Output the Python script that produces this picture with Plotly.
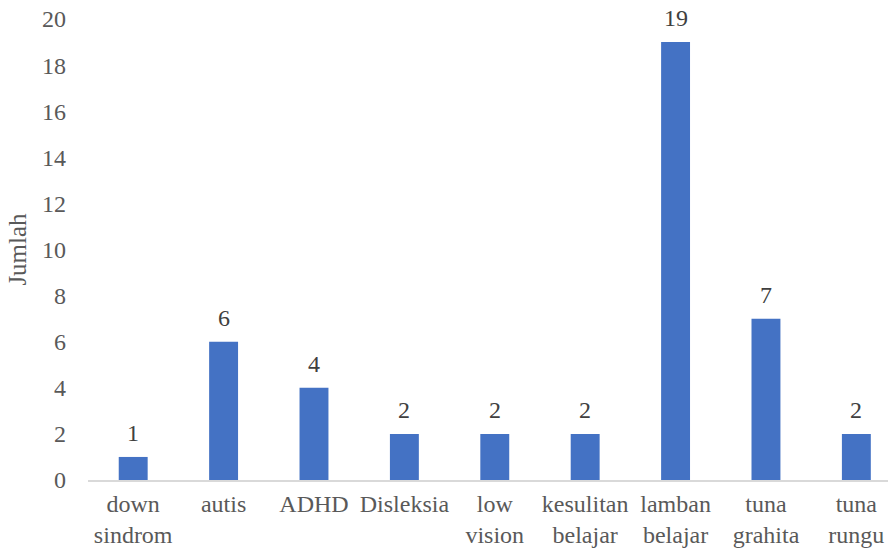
import plotly.graph_objects as go

categories = ["down<br>sindrom", "autis", "ADHD", "Disleksia", "low<br>vision",
              "kesulitan<br>belajar", "lamban<br>belajar", "tuna<br>grahita", "tuna<br>rungu"]
jumlah = [1, 6, 4, 2, 2, 2, 19, 7, 2]
y_ticks = list(range(0, 21, 2))

FONT = "Liberation Serif, Times New Roman, serif"
xs = list(range(len(categories)))

fig = go.Figure(
    go.Bar(
        x=xs,
        y=jumlah,
        width=0.32,
        marker=dict(color="#4472C4", line=dict(width=0)),
        hoverinfo="x+y",
    )
)

# value labels above each bar
for x, v in zip(xs, jumlah):
    fig.add_annotation(
        x=x, y=v, text=str(v), showarrow=False,
        xanchor="center", yanchor="bottom", yshift=9,
        font=dict(family=FONT, size=24, color="#404040"),
    )

fig.update_layout(
    width=888,
    height=549,
    margin=dict(l=88, r=0, t=19, b=69),
    paper_bgcolor="white",
    plot_bgcolor="white",
    showlegend=False,
    font=dict(family=FONT, size=24, color="#595959"),
    xaxis=dict(
        tickmode="array",
        tickvals=xs,
        ticktext=categories,
        range=[-0.5, 8.35],
        showline=True,
        linecolor="#D9D9D9",
        linewidth=1.5,
        ticks="",
        showgrid=False,
        zeroline=False,
        ticklabelstandoff=1,
        tickfont=dict(family=FONT, size=24, color="#595959"),
    ),
    yaxis=dict(
        range=[0, 20],
        tickvals=y_ticks,
        showgrid=False,
        zeroline=False,
        showline=False,
        ticks="",
        ticklabelstandoff=21,
        tickfont=dict(family=FONT, size=24, color="#595959"),
        title=dict(text="Jumlah", font=dict(family=FONT, size=25, color="#595959"), standoff=8),
    ),
)

fig.write_html("out.html")
